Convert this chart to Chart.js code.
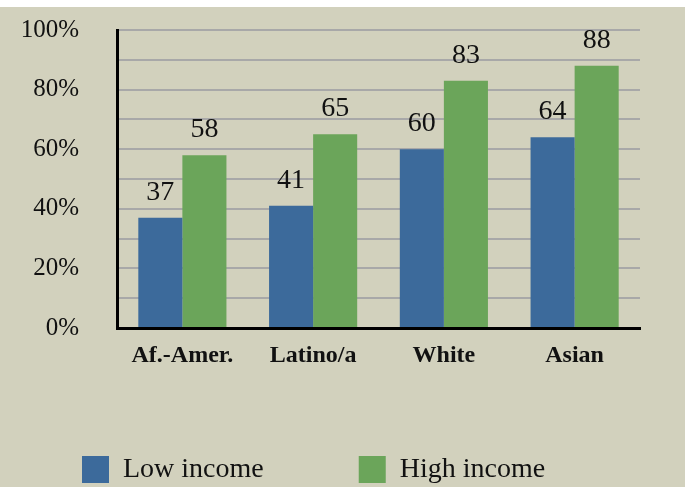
<!DOCTYPE html>
<html>
<head>
<meta charset="utf-8">
<script src="https://cdn.jsdelivr.net/npm/chart.js@4.4.1/dist/chart.umd.min.js"></script>
<style>
  html, body { margin: 0; padding: 0; background: #fff; overflow: hidden; width: 685px; height: 487px; }
  #panel { position: absolute; left: 0; top: 7px; width: 685px; height: 480px; background: #d2d1bd; }
  #c { position: absolute; left: 0; top: 0; }
</style>
</head>
<body>
<div id="panel"></div>
<canvas id="c" width="685" height="487"></canvas>
<script>
// Share of students by group and family income (percent)
const groups = ['Af.-Amer.', 'Latino/a', 'White', 'Asian'];
const lowIncome = [37, 41, 60, 64];
const highIncome = [58, 65, 83, 88];
const seriesNames = ['Low income', 'High income'];
const yMin = 0;
const yMax = 100;
const gridStep = 10;
const labelStep = 20;

const CANVAS_H = 487;
const PLOT_TOP = 30;
const PLOT_LEFT = 117;
const PLOT_BOTTOM = 328;
const RIGHT_MARGIN = 45;
const X_AXIS_H = 45;
const LEGEND_X = 82;   // left edge of the first swatch
const LEGEND_Y = 456;  // top edge of the swatches
const SERIF = "'Liberation Serif', 'Times New Roman', serif";

Chart.defaults.font.family = SERIF;
Chart.defaults.color = '#111';

// Writes each bar's value above it
const barValueLabels = {
  id: 'barValueLabels',
  afterDatasetsDraw(chart) {
    const ctx = chart.ctx;
    ctx.save();
    ctx.font = '28px ' + SERIF;
    ctx.fillStyle = '#111';
    ctx.textAlign = 'center';
    ctx.textBaseline = 'alphabetic';
    chart.data.datasets.forEach((ds, i) => {
      chart.getDatasetMeta(i).data.forEach((bar, j) => {
        ctx.fillText(String(ds.data[j]), bar.x, bar.y - 18);
      });
    });
    ctx.restore();
  }
};

// Puts the legend row at a fixed spot below the category labels
const legendPlacement = {
  id: 'legendPlacement',
  afterLayout(chart) {
    const lg = chart.legend;
    if (!lg) return;
    const lab = lg.options.labels;
    lg.left = LEGEND_X - lab.padding;
    lg.top = LEGEND_Y - lab.padding - Math.max((lab.font.size - lab.boxHeight) / 2, 0);
    lg.bottom = CANVAS_H;
    lg.height = lg.bottom - lg.top;
  }
};

new Chart(document.getElementById('c'), {
  type: 'bar',
  data: {
    labels: groups,
    datasets: [
      { label: seriesNames[0], data: lowIncome, backgroundColor: '#3c6a9b', borderWidth: 0,
        categoryPercentage: 0.674, barPercentage: 1.0 },
      { label: seriesNames[1], data: highIncome, backgroundColor: '#6ba55a', borderWidth: 0,
        categoryPercentage: 0.674, barPercentage: 1.0 }
    ]
  },
  options: {
    responsive: false,
    animation: false,
    devicePixelRatio: 1,
    layout: { padding: { top: PLOT_TOP, right: 0, bottom: 0, left: 0 } },
    scales: {
      x: {
        grid: { display: false, drawTicks: false },
        border: { display: true, color: '#000', width: 3 },
        ticks: { font: { size: 24, weight: 'bold' }, color: '#111', padding: 13, maxRotation: 0 },
        afterFit(s) { s.height = X_AXIS_H; }
      },
      y: {
        min: yMin,
        max: yMax,
        grid: { color: '#a8a8a8', lineWidth: 2, drawTicks: false },
        border: { display: true, color: '#000', width: 3 },
        ticks: {
          stepSize: gridStep,
          autoSkip: false,
          padding: 38,
          font: { size: 25 },
          color: '#111',
          callback: v => (v % labelStep === 0 ? v + '%' : '')
        },
        afterFit(s) {
          s.width = PLOT_LEFT;
          // the label gap should not push the plot down from the top margin
          s.paddingTop = 0;
          s.paddingBottom = 0;
        }
      },
      // empty axis on the right that only reserves the margin beside the plot
      margin: {
        type: 'linear',
        position: 'right',
        grid: { display: false, drawTicks: false },
        border: { display: false },
        ticks: { display: false },
        afterFit(s) { s.width = RIGHT_MARGIN; }
      }
    },
    plugins: {
      tooltip: { enabled: false },
      legend: {
        position: 'bottom',
        align: 'start',
        maxHeight: CANVAS_H - PLOT_BOTTOM - X_AXIS_H,
        labels: { boxWidth: 27, boxHeight: 27, padding: 95, font: { size: 28 }, color: '#111' }
      }
    }
  },
  plugins: [barValueLabels, legendPlacement]
});
</script>
</body>
</html>
